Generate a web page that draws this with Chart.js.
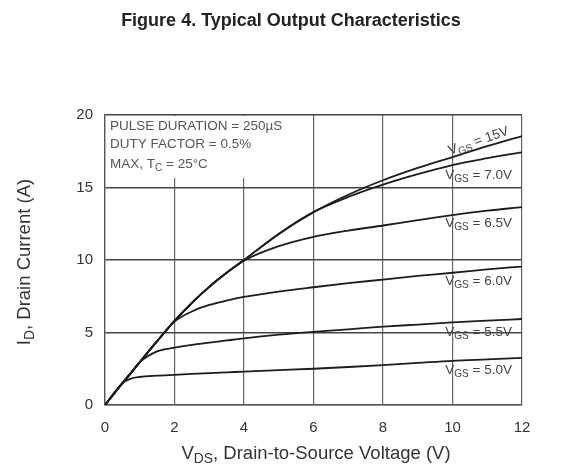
<!DOCTYPE html>
<html>
<head>
<meta charset="utf-8">
<script src="https://cdn.jsdelivr.net/npm/chart.js@4/dist/chart.umd.min.js"></script>
<style>
  html, body { margin: 0; padding: 0; background: #fff; }
  #wrap { width: 562px; height: 465px; position: relative; }
</style>
</head>
<body>
<div id="wrap"><canvas id="c"></canvas></div>
<script>
// V_DS sample points (V) shared by every curve
const vds = [0, 0.5, 0.75, 1, 1.5, 2, 2.5, 3, 3.5, 4, 5, 6, 7, 8, 9, 10, 11, 12];

// I_D (A), one array per gate voltage
const id15 = [0, 1.5, 2.22, 2.95, 4.4, 5.8, 7.05, 8.15, 9.12, 10.0, 11.8, 13.3, 14.5, 15.5, 16.35, 17.1, 17.85, 18.55];
const id70 = [0, 1.5, 2.22, 2.95, 4.4, 5.8, 7.05, 8.15, 9.12, 10.0, 11.8, 13.3, 14.35, 15.2, 15.92, 16.55, 17.02, 17.43];
const id65 = [0, 1.5, 2.22, 2.95, 4.4, 5.8, 7.05, 8.15, 9.12, 9.95, 10.95, 11.6, 12.03, 12.38, 12.75, 13.1, 13.4, 13.65];
const id60 = [0, 1.5, 2.22, 2.95, 4.4, 5.75, 6.45, 6.9, 7.2, 7.45, 7.82, 8.12, 8.4, 8.65, 8.9, 9.12, 9.35, 9.55];
const id55 = [0, 1.5, 2.22, 2.95, 3.7, 3.95, 4.15, 4.3, 4.45, 4.6, 4.85, 5.05, 5.22, 5.4, 5.55, 5.7, 5.82, 5.93];
const id50 = [0, 1.5, 1.82, 1.93, 2.02, 2.08, 2.14, 2.2, 2.25, 2.3, 2.4, 2.5, 2.62, 2.75, 2.9, 3.05, 3.15, 3.25];

const seriesNames = ['15V', '7.0V', '6.5V', '6.0V', '5.5V', '5.0V'];
const seriesValues = [id15, id70, id65, id60, id55, id50];

const xTicks = [0, 2, 4, 6, 8, 10, 12];
const yTicks = [0, 5, 10, 15, 20];

const FONT = '"Liberation Sans", Arial, sans-serif';

// draws runs of [text, isSubscript] starting at x (left aligned), baseline middle
function drawParts(ctx, parts, x, y, size) {
  let cx = x;
  for (const [t, sub] of parts) {
    ctx.font = (sub ? size * 0.75 : size) + 'px ' + FONT;
    ctx.fillText(t, cx, sub ? y + size * 0.3 : y);
    cx += ctx.measureText(t).width;
  }
}
function partsWidth(ctx, parts, size) {
  let w = 0;
  for (const [t, sub] of parts) {
    ctx.font = (sub ? size * 0.75 : size) + 'px ' + FONT;
    w += ctx.measureText(t).width;
  }
  return w;
}
function drawCentered(ctx, parts, x, y, size) {
  drawParts(ctx, parts, x - partsWidth(ctx, parts, size) / 2, y, size);
}

const notes = {
  id: 'notes',
  beforeDatasetsDraw(chart) {
    // blank box behind the test conditions text
    const { ctx, scales: { x, y } } = chart;
    ctx.save();
    ctx.fillStyle = '#fff';
    ctx.fillRect(x.getPixelForValue(0) + 1, y.getPixelForValue(20) + 1,
      x.getPixelForValue(6) - x.getPixelForValue(0) - 2, y.getPixelForValue(15.65) - y.getPixelForValue(20) - 1);
    ctx.restore();
  },
  afterDraw(chart) {
    const { ctx, scales: { x, y } } = chart;
    ctx.save();
    ctx.textBaseline = 'middle';

    // title
    ctx.fillStyle = '#222';
    ctx.font = 'bold 18px ' + FONT;
    ctx.textAlign = 'center';
    ctx.fillText('Figure 4. Typical Output Characteristics', 291, 21);
    ctx.textAlign = 'left';

    // axis titles
    ctx.fillStyle = '#333';
    drawCentered(ctx, [['V', false], ['DS', true], [', Drain-to-Source Voltage (V)', false]], 316, 454, 18.5);
    ctx.save();
    ctx.translate(25, 262);
    ctx.rotate(-Math.PI / 2);
    drawCentered(ctx, [['I', false], ['D', true], [', Drain Current (A)', false]], 0, 0, 18.5);
    ctx.restore();

    // test conditions
    ctx.fillStyle = '#555';
    const lx = x.getPixelForValue(0) + 5;
    drawParts(ctx, [['PULSE DURATION = 250\u00b5S', false]], lx, 126, 13.5);
    drawParts(ctx, [['DUTY FACTOR = 0.5%', false]], lx, 144, 13.5);
    drawParts(ctx, [['MAX, T', false], ['C', true], [' = 25\u00b0C', false]], lx, 164, 13.5);

    // curve labels
    const labelAt = [[10.75, 18.2], [10.75, 15.86], [10.75, 12.55], [10.75, 8.55], [10.75, 5.03], [10.75, 2.41]];
    ctx.fillStyle = '#444';
    seriesNames.forEach((name, i) => {
      const px = x.getPixelForValue(labelAt[i][0]);
      const py = y.getPixelForValue(labelAt[i][1]);
      const parts = [['V', false], ['GS', true], [' = ' + name, false]];
      ctx.save();
      ctx.translate(px, py);
      if (i === 0) ctx.rotate(-0.33);
      drawCentered(ctx, parts, 0, 0, 13.5);
      ctx.restore();
    });
    ctx.restore();
  }
};

new Chart(document.getElementById('c'), {
  type: 'line',
  data: {
    datasets: seriesValues.map((vals, i) => ({
      label: 'VGS = ' + seriesNames[i],
      data: vds.map((v, k) => ({ x: v, y: vals[k] })),
      borderColor: '#1c1c1c',
      borderWidth: 1.8,
      pointRadius: 0,
      fill: false,
      cubicInterpolationMode: 'monotone',
      tension: 0.4
    }))
  },
  options: {
    responsive: true,
    maintainAspectRatio: false,
    animation: false,
    layout: { padding: { top: 115, right: 40, left: 0, bottom: 0 } },
    plugins: { legend: { display: false }, tooltip: { enabled: false } },
    scales: {
      x: {
        type: 'linear',
        min: 0, max: 12,
        afterBuildTicks: s => { s.ticks = xTicks.map(v => ({ value: v })); },
        afterFit: s => { s.height = 60; },
        grid: { color: '#666', lineWidth: 1.2, drawTicks: false },
        border: { color: '#555', width: 1.3 },
        ticks: { color: '#333', padding: 14, font: { family: FONT, size: 15 } }
      },
      y: {
        min: 0, max: 20,
        afterBuildTicks: s => { s.ticks = yTicks.map(v => ({ value: v })); },
        afterFit: s => { s.width = 105; },
        grid: { color: '#444', lineWidth: 1.5, drawTicks: false },
        border: { color: '#555', width: 1.3 },
        ticks: { color: '#333', padding: 12, font: { family: FONT, size: 15 } }
      }
    }
  },
  plugins: [notes]
});
</script>
</body>
</html>
